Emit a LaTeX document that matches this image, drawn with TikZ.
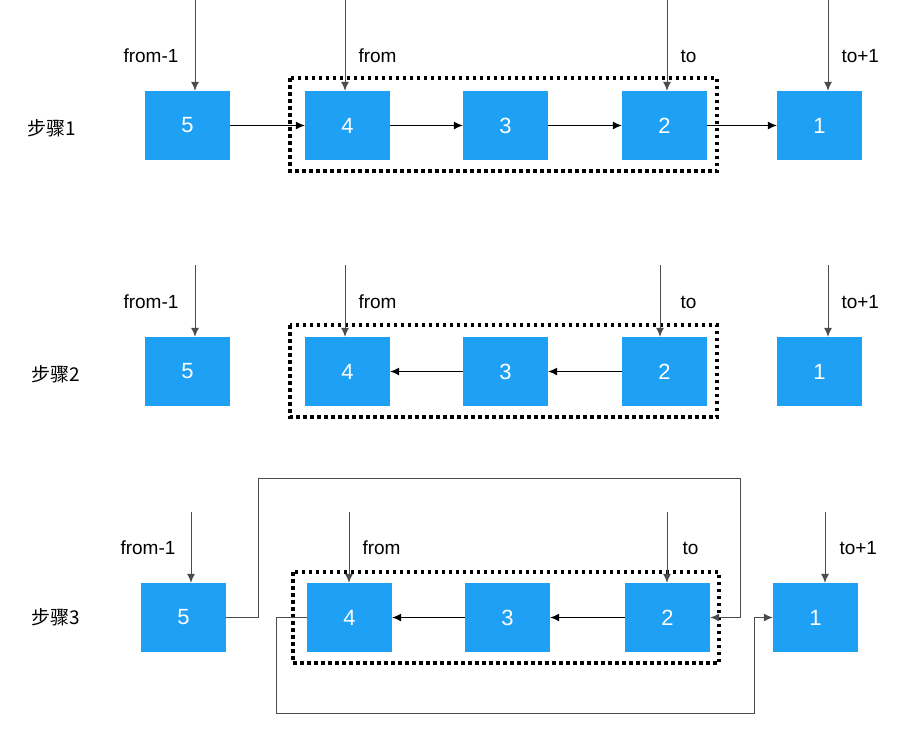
\documentclass[tikz,border=0pt]{standalone}
\usepackage{fontspec}
\setmainfont{Liberation Sans}
\newfontfamily\cjk{Noto Sans CJK SC}
\usepackage{xcolor}
\usetikzlibrary{
    positioning,
    arrows.meta
}
\definecolor{nodeblue}{RGB}{30,160,245}

\begin{document}
\begin{tikzpicture}[
    x=1pt, y=-1pt,
    box/.style={
        rectangle,
        fill=nodeblue,
        text=white,
        minimum width=85pt,
        minimum height=69pt,
        font=\fontsize{22}{24}\selectfont
    },
    arrow/.style={-{Latex[length=9pt,width=8pt]}, line width=1pt},
    pointer/.style={-{Latex[length=9pt,width=8pt]}, line width=1pt, draw=black!70},
    label/.style={font=\fontsize{19}{22}\selectfont},
    steplabel/.style={font=\cjk\fontsize{19}{22}\selectfont},
    frame/.style={draw, line width=3.5pt, dash pattern=on 3.5pt off 3.5pt}
]
\useasboundingbox (0,0) rectangle (922,742);

% step 1
\node[steplabel] (step1) at (52,128) {步骤1};
\node[box] (a5) at (187.5,125.5) {5};
\node[box] (a4) at (347.5,125.5) {4};
\node[box] (a3) at (505.5,125.5) {3};
\node[box] (a2) at (664.5,125.5) {2};
\node[box] (a1) at (819.5,125.5) {1};
\draw[frame] (290,78) rectangle (717,171);

\coordinate (pa5) at (195,0);
\coordinate (pa4) at (345,0);
\coordinate (pa2) at (667,0);
\coordinate (pa1) at (828,0);
\draw[pointer] (pa5) -- (pa5 |- a5.north);
\draw[pointer] (pa4) -- (pa4 |- a4.north);
\draw[pointer] (pa2) -- (pa2 |- a2.north);
\draw[pointer] (pa1) -- (pa1 |- a1.north);
\node[label, anchor=east] at (182,56) {from-1};
\node[label, anchor=west] at (355,56) {from};
\node[label, anchor=west] at (677,56) {to};
\node[label, anchor=west] at (838,56) {to+1};

\draw[arrow] (a5) -- (a4);
\draw[arrow] (a4) -- (a3);
\draw[arrow] (a3) -- (a2);
\draw[arrow] (a2) -- (a1);

% step 2
\node[steplabel] (step2) at (56,374) {步骤2};
\node[box] (b5) at (187.5,371.5) {5};
\node[box] (b4) at (347.5,371.5) {4};
\node[box] (b3) at (505.5,371.5) {3};
\node[box] (b2) at (664.5,371.5) {2};
\node[box] (b1) at (819.5,371.5) {1};
\draw[frame] (290,325) rectangle (717,417);

\coordinate (pb5) at (195,265);
\coordinate (pb4) at (345,265);
\coordinate (pb2) at (660,265);
\coordinate (pb1) at (828,265);
\draw[pointer] (pb5) -- (pb5 |- b5.north);
\draw[pointer] (pb4) -- (pb4 |- b4.north);
\draw[pointer] (pb2) -- (pb2 |- b2.north);
\draw[pointer] (pb1) -- (pb1 |- b1.north);
\node[label, anchor=east] at (182,302) {from-1};
\node[label, anchor=west] at (355,302) {from};
\node[label, anchor=west] at (677,302) {to};
\node[label, anchor=west] at (838,302) {to+1};

\draw[arrow] (b3) -- (b4);
\draw[arrow] (b2) -- (b3);

% step 3
\node[steplabel] (step3) at (56,617) {步骤3};
\node[box] (c5) at (183.5,617.5) {5};
\node[box] (c4) at (349.5,617.5) {4};
\node[box] (c3) at (507.5,617.5) {3};
\node[box] (c2) at (667.5,617.5) {2};
\node[box] (c1) at (815.5,617.5) {1};
\draw[frame] (293,572) rectangle (719,663);

\coordinate (pc5) at (191,512);
\coordinate (pc4) at (349,512);
\coordinate (pc2) at (667,512);
\coordinate (pc1) at (825,512);
\draw[pointer] (pc5) -- (pc5 |- c5.north);
\draw[pointer] (pc4) -- (pc4 |- c4.north);
\draw[pointer] (pc2) -- (pc2 |- c2.north);
\draw[pointer] (pc1) -- (pc1 |- c1.north);
\node[label, anchor=east] at (179,548) {from-1};
\node[label, anchor=west] at (359,548) {from};
\node[label, anchor=west] at (679,548) {to};
\node[label, anchor=west] at (836,548) {to+1};

\draw[arrow] (c3) -- (c4);
\draw[arrow] (c2) -- (c3);

\coordinate (topL) at (258,478);
\coordinate (topR) at (740,478);
\coordinate (botL) at (276,713);
\coordinate (botR) at (754,713);
\draw[arrow, draw=black!70] (c5.east) -| (topL) -- (topR) |- (c2.east);
\draw[arrow, draw=black!70] (c4.west) -| (botL) -- (botR) |- (c1.west);

\end{tikzpicture}
\end{document}
